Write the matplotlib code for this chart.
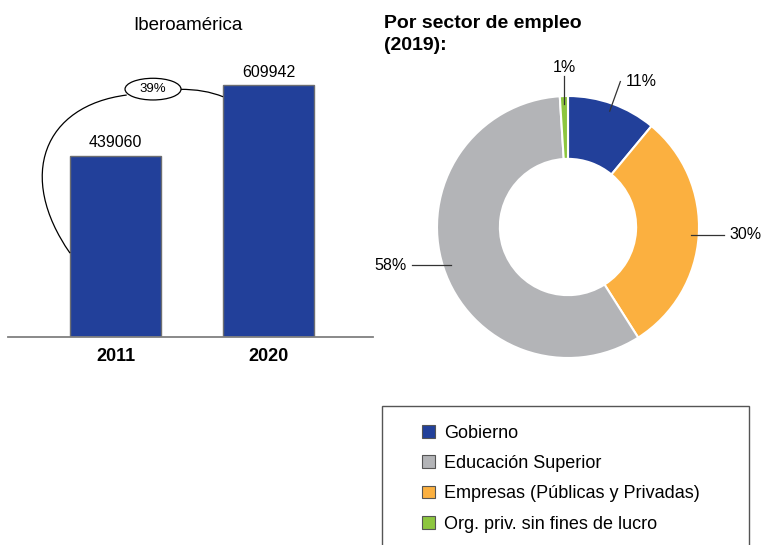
import numpy as np
import matplotlib.pyplot as plt
from matplotlib.patches import Ellipse, Rectangle, Patch, PathPatch
from matplotlib.path import Path

plt.rcParams['font.family'] = ['Liberation Sans', 'DejaVu Sans']

# datos
anios = ['2011', '2020']
investigadores = [439060, 609942]
crecimiento = '39%'

sectores = ['Gobierno', 'Empresas (Públicas y Privadas)', 'Educación Superior',
            'Org. priv. sin fines de lucro']
porcentajes = [11, 30, 58, 1]
colores = ['#22409a', '#fbb040', '#b3b4b7', '#8dc63f']
orden_leyenda = [0, 2, 1, 3]

W, H = 761, 545
fig = plt.figure(figsize=(W / 100, H / 100), dpi=100)


def caja(x0, y0, x1, y1):
    # caja en pixeles (desde arriba a la izquierda) -> fraccion de la figura
    return [x0 / W, 1 - y1 / H, (x1 - x0) / W, (y1 - y0) / H]


# ---- barras ----
ax = fig.add_axes(caja(8, 6.5, 373, 337))
x = np.arange(len(anios))
ancho = 0.595
ax.bar(x, investigadores, width=ancho, color='#22409a', edgecolor='#6d6e71',
       linewidth=1, zorder=2)
ax.set_xlim(-0.703, 1.683)
ax.set_ylim(0, 800000)
for s in ['top', 'left', 'right']:
    ax.spines[s].set_visible(False)
ax.spines['bottom'].set_color('#808080')
ax.spines['bottom'].set_linewidth(1.3)
ax.set_yticks([])
ax.set_xticks(x)
ax.set_xticklabels(anios, fontsize=13, fontweight='bold')
ax.tick_params(axis='x', length=0, pad=8)
for xi, v in zip(x, investigadores):
    ax.annotate(f'{v}', (xi, v), xytext=(0, 6), textcoords='offset points',
                ha='center', va='baseline', fontsize=11.5)

# curva del crecimiento
izq = x[0] - ancho / 2
der = x[1] - ancho / 2
elipse_x, elipse_y = 0.245, 600000
verts = [(izq, 203000), (-0.65, 390000), (-0.47, 560000), (0.073, 585700)]
ax.add_patch(PathPatch(Path(verts, [Path.MOVETO, Path.CURVE4, Path.CURVE4, Path.CURVE4]),
                       fill=False, lw=0.9, ec='black', zorder=3))
verts = [(0.4216, 599500), (0.58, 600000), (der, investigadores[1] - 28300)]
ax.add_patch(PathPatch(Path(verts, [Path.MOVETO, Path.CURVE3, Path.CURVE3]),
                       fill=False, lw=0.9, ec='black', zorder=3))
ax.add_patch(Ellipse((elipse_x, elipse_y), 0.366, 52500, fc='white', ec='black',
                     lw=0.9, zorder=4))
ax.text(elipse_x, elipse_y, crecimiento, ha='center', va='center', fontsize=9.5, zorder=5)

fig.text(187.5 / W, 1 - 30 / H, 'Iberoamérica', ha='center', va='baseline', fontsize=13.5)

# ---- dona ----
fig.text(384 / W, 1 - 28.5 / H, 'Por sector de empleo', ha='left', va='baseline',
         fontsize=14, fontweight='bold')
fig.text(384 / W, 1 - 50.5 / H, '(2019):', ha='left', va='baseline',
         fontsize=14, fontweight='bold')

ax2 = fig.add_axes(caja(384.6, 43.6, 751.4, 410.4))
wedges, _ = ax2.pie(porcentajes, colors=colores, startangle=90, counterclock=False,
                    radius=1, wedgeprops=dict(width=0.48, edgecolor='white', linewidth=1.5))
ax2.set_xlim(-1.4, 1.4)
ax2.set_ylim(-1.4, 1.4)
ax2.set_aspect('equal')
ax2.axis('off')

for w, p in zip(wedges, porcentajes):
    ang = np.deg2rad((w.theta1 + w.theta2) / 2)
    c, s = np.cos(ang), np.sin(ang)
    x0, y0 = 0.94 * c, 0.94 * s
    if s > 0.99:
        # etiqueta arriba, linea vertical
        ax2.plot([x0, x0], [y0, 1.15], color='#333333', lw=0.9, clip_on=False)
        ax2.annotate(f'{p}%', (x0, 1.15), xytext=(0, 3), textcoords='offset points',
                     ha='center', va='baseline', fontsize=11.5, annotation_clip=False)
    elif abs(c) > 0.9:
        # etiquetas a los lados, linea horizontal
        x1 = 1.19 * np.sign(c)
        ax2.plot([x0, x1], [y0, y0], color='#333333', lw=0.9, clip_on=False)
        ax2.annotate(f'{p}%', (x1, y0), xytext=(4 * np.sign(c), 0), textcoords='offset points',
                     ha='left' if c > 0 else 'right', va='center', fontsize=11.5,
                     annotation_clip=False)
    else:
        ax2.plot([x0, 1.18 * c], [y0, 1.18 * s], color='#333333', lw=0.9, clip_on=False)
        ax2.annotate(f'{p}%', (1.18 * c, 1.18 * s), xytext=(4 if c > 0 else -4, 0),
                     textcoords='offset points', ha='left' if c > 0 else 'right',
                     va='center', fontsize=11.5, annotation_clip=False)

# ---- leyenda ----
handles = [Patch(facecolor=colores[i], edgecolor='#555555', linewidth=0.8) for i in orden_leyenda]
labels = [sectores[i] for i in orden_leyenda]
fig.legend(handles, labels, loc='upper left', bbox_to_anchor=(421.7 / W, 1 - 425 / H),
           frameon=False, borderpad=0, borderaxespad=0, handlelength=0.72, handleheight=0.72,
           handletextpad=0.5, labelspacing=0.73, fontsize=13)
fig.add_artist(Rectangle((382 / W, 1 - 551 / H), (749 - 382) / W, (551 - 405.7) / H,
                         transform=fig.transFigure, fill=False, ec='#555555', lw=1))

fig.savefig('out.png', dpi=100)
